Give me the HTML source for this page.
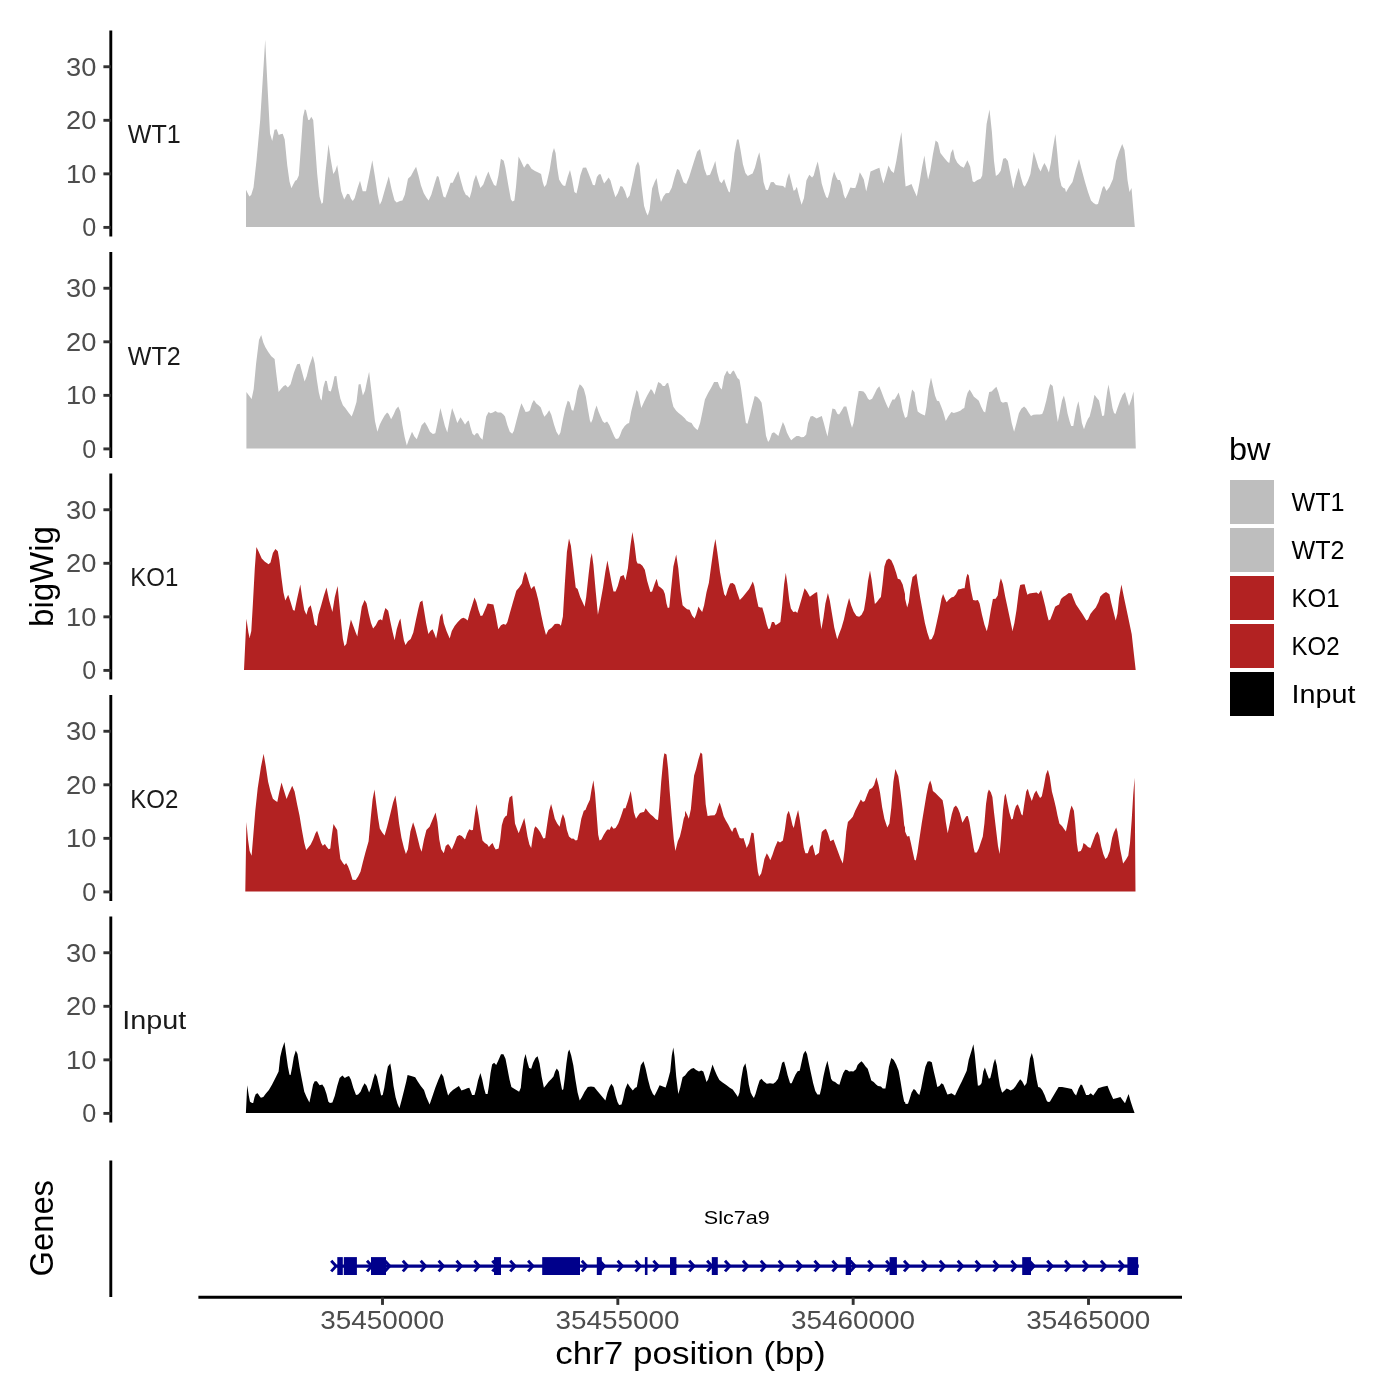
<!DOCTYPE html><html><head><meta charset="utf-8"><title>bw</title><style>html,body{margin:0;padding:0;background:#fff}svg{display:block;will-change:transform}text{font-family:"Liberation Sans",sans-serif}</style></head><body>
<svg width="1400" height="1400" viewBox="0 0 1400 1400">
<rect width="1400" height="1400" fill="#fff"/>
<path d="M246.0 227.0L246.0 189.7L249.3 196.5L251.2 195.0L253.5 187.5L256.5 160.5L260.2 120.0L265.2 39.7L267.7 90.0L270.0 133.5L272.2 141.0L274.5 129.7L276.7 129.3L278.7 135.0L280.5 134.2L282.7 133.8L284.7 139.5L287.2 165.0L289.5 181.5L291.4 188.2L293.2 184.5L295.2 180.7L296.7 180.0L298.8 175.5L300.7 150.0L303.0 117.0L304.8 109.2L306.0 110.2L308.2 120.0L309.7 119.7L311.2 116.7L313.2 120.0L315.0 144.0L317.2 174.0L319.5 196.5L321.7 204.0L322.9 202.5L325.5 172.5L328.5 144.3L330.7 159.0L333.3 174.0L335.2 171.0L337.2 165.0L339.0 177.0L341.2 191.2L344.2 199.5L347.2 193.8L349.2 194.2L351.0 198.7L352.8 201.0L354.7 198.0L357.7 187.5L360.0 180.7L362.7 191.2L366.0 191.2L369.0 177.0L372.3 160.2L375.0 177.0L377.7 195.0L379.8 204.7L381.7 201.0L385.5 187.5L388.8 176.2L391.5 189.0L394.5 200.2L396.7 202.5L400.0 201.0L402.4 200.4L404.8 194.8L408.0 178.8L410.9 175.9L413.7 170.7L416.1 166.7L418.5 175.5L420.9 185.2L423.8 193.2L426.5 197.7L428.6 200.4L431.3 194.8L434.6 183.6L437.0 175.9L438.6 176.8L441.0 186.8L443.4 196.4L445.3 197.7L447.9 190.8L450.6 182.8L452.7 182.8L455.4 177.1L458.3 171.0L460.8 180.4L463.5 190.0L465.9 195.1L467.5 195.6L469.6 198.0L471.5 191.6L473.6 181.2L476.0 174.7L477.9 180.4L480.4 188.1L483.3 184.4L486.0 177.1L488.4 171.5L490.8 177.9L494.0 184.9L496.1 186.0L498.4 175.5L500.9 158.7L503.7 160.8L505.3 167.5L508.0 183.6L510.9 199.6L512.5 201.6L514.4 200.4L516.0 186.8L518.6 156.6L520.9 161.1L524.1 167.8L527.0 163.5L528.6 164.3L531.5 168.8L535.0 171.0L538.2 172.6L541.1 173.9L542.7 182.0L544.3 187.1L546.3 184.4L549.5 170.7L552.4 153.0L554.0 147.9L555.6 153.0L557.2 167.5L559.1 179.6L561.5 183.6L563.1 185.5L565.2 186.0L567.6 177.1L570.0 169.9L572.0 178.8L574.4 191.9L576.5 193.5L578.4 185.2L580.3 175.5L582.9 167.8L586.1 167.5L588.4 173.1L590.9 179.6L592.9 184.9L594.9 185.2L596.9 177.1L599.0 174.3L600.6 174.3L602.5 179.6L604.1 183.6L606.5 180.4L608.6 177.5L610.5 180.4L612.9 189.2L615.4 197.2L617.8 193.2L620.5 186.0L622.6 186.8L625.0 191.6L627.2 198.4L629.6 195.6L632.9 180.4L635.8 165.9L638.0 161.4L639.6 165.9L641.7 186.8L644.1 206.1L646.2 212.5L647.8 215.4L649.7 209.3L652.1 188.4L654.6 182.0L656.6 177.9L658.6 191.6L661.0 202.1L663.4 196.4L665.8 193.2L669.0 192.9L671.8 187.6L674.6 177.1L677.1 169.1L679.1 169.9L681.1 175.5L683.5 182.3L686.2 183.9L689.1 177.1L693.1 164.3L697.1 151.8L700.0 149.0L702.0 157.9L704.4 169.1L706.8 175.5L710.0 174.7L712.9 167.5L715.3 161.1L717.2 172.3L719.6 181.2L721.6 183.3L724.1 179.1L726.1 185.2L728.5 191.6L729.8 192.4L731.7 178.8L734.4 153.0L737.0 139.4L738.6 139.4L740.5 149.8L742.9 164.3L745.4 173.1L747.8 175.9L750.5 174.4L752.6 173.6L755.0 167.5L757.4 157.9L759.3 152.2L761.4 164.3L763.5 182.0L765.9 189.7L767.9 190.0L770.8 182.3L773.5 182.0L775.9 184.9L779.1 185.5L783.1 186.0L785.2 188.1L787.1 178.8L789.1 173.1L791.2 181.2L793.6 190.8L795.2 190.0L796.8 186.8L799.2 196.4L801.6 204.8L804.0 198.0L806.4 180.4L809.3 174.7L812.1 177.5L813.7 175.5L815.8 167.5L817.7 161.4L819.6 170.7L821.7 183.6L824.1 191.6L826.2 197.2L827.8 198.0L829.7 191.6L832.1 178.8L834.1 171.5L836.2 177.1L837.8 180.0L839.9 179.9L841.8 185.2L843.7 194.8L845.0 198.0L845.6 198.4L848.0 193.2L850.4 187.6L852.9 188.1L855.3 188.1L857.4 182.0L859.8 172.3L861.7 175.5L863.8 179.6L866.2 191.6L868.1 183.6L870.5 171.5L872.9 170.4L876.2 169.1L879.4 167.8L881.5 177.1L883.4 183.6L885.8 175.5L888.5 165.6L891.1 170.7L893.8 173.1L896.3 161.1L898.7 146.6L901.4 132.1L902.7 148.2L904.3 172.3L905.6 186.5L908.3 185.5L911.5 183.9L913.9 190.0L916.8 196.4L919.6 182.0L922.0 167.5L924.4 155.4L926.0 167.5L928.1 179.6L930.3 170.7L932.9 154.6L935.6 140.5L938.0 142.6L940.4 153.0L944.5 158.2L947.7 161.9L949.3 163.0L950.9 153.0L953.0 149.0L954.9 157.9L957.3 162.7L960.5 165.9L963.8 167.8L965.8 163.5L967.4 160.3L970.2 166.7L972.6 181.2L974.2 182.3L977.4 180.0L980.6 178.8L982.2 175.5L983.8 157.9L986.6 124.1L989.5 109.6L991.9 132.1L994.0 161.1L995.9 175.9L998.3 174.3L1000.7 170.7L1003.1 158.7L1005.5 157.9L1007.9 161.1L1010.4 173.9L1013.3 188.4L1016.0 177.1L1018.7 167.8L1020.8 177.1L1023.2 184.9L1024.8 186.8L1028.0 180.4L1030.4 173.9L1032.1 162.7L1033.7 151.8L1036.1 159.5L1038.5 167.5L1040.6 171.5L1042.5 166.7L1044.4 163.0L1046.5 166.7L1048.9 172.6L1050.9 162.7L1052.9 148.2L1055.4 134.1L1057.3 153.0L1059.4 177.1L1061.5 186.0L1063.4 188.1L1065.0 188.4L1066.0 192.2L1069.0 187.0L1072.5 182.0L1076.0 169.0L1079.0 159.0L1081.5 169.0L1085.0 182.0L1088.0 192.0L1091.0 200.5L1093.5 203.0L1096.0 204.5L1098.0 204.0L1100.5 195.0L1102.5 188.0L1104.0 185.8L1106.5 191.0L1109.5 187.0L1113.0 179.0L1116.0 161.0L1119.0 152.0L1122.2 144.0L1124.5 150.0L1126.0 164.0L1127.5 180.0L1129.5 192.0L1131.5 188.0L1134.8 227.0L1134.8 227.0Z" fill="#BEBEBE"/>
<line x1="110.8" y1="30.5" x2="110.8" y2="236.5" stroke="#000" stroke-width="2.9"/>
<line x1="103.4" y1="227.40" x2="110.8" y2="227.40" stroke="#333" stroke-width="2.9"/>
<text x="96.3" y="236.3" font-size="25.9" fill="#4D4D4D" text-anchor="end" textLength="14" lengthAdjust="spacingAndGlyphs">0</text>
<line x1="103.4" y1="173.85" x2="110.8" y2="173.85" stroke="#333" stroke-width="2.9"/>
<text x="96.3" y="182.8" font-size="25.9" fill="#4D4D4D" text-anchor="end" textLength="30.3" lengthAdjust="spacingAndGlyphs">10</text>
<line x1="103.4" y1="120.30" x2="110.8" y2="120.30" stroke="#333" stroke-width="2.9"/>
<text x="96.3" y="129.2" font-size="25.9" fill="#4D4D4D" text-anchor="end" textLength="30.3" lengthAdjust="spacingAndGlyphs">20</text>
<line x1="103.4" y1="66.75" x2="110.8" y2="66.75" stroke="#333" stroke-width="2.9"/>
<text x="96.3" y="75.7" font-size="25.9" fill="#4D4D4D" text-anchor="end" textLength="30.3" lengthAdjust="spacingAndGlyphs">30</text>
<text x="127.80000000000001" y="143.0" font-size="25.9" fill="#1A1A1A" text-anchor="start" textLength="53" lengthAdjust="spacingAndGlyphs">WT1</text>
<path d="M246.4 448.5L246.4 392.0L248.8 395.2L251.6 399.1L253.7 389.1L256.1 363.4L259.0 340.1L261.2 334.9L263.3 342.5L265.4 347.3L268.1 351.8L271.3 356.2L274.6 358.9L276.2 373.0L278.6 392.0L281.0 389.1L283.4 386.2L285.5 385.1L287.9 387.5L290.6 384.3L293.8 373.0L297.1 364.2L299.8 363.7L301.9 371.4L304.6 381.4L306.7 376.3L309.1 366.6L312.8 355.7L314.7 363.4L316.8 379.5L318.8 392.3L320.4 398.8L321.6 400.4L323.3 387.5L325.2 380.8L326.8 381.1L328.7 390.7L330.8 391.5L332.4 385.9L334.5 376.3L336.4 375.9L338.0 387.5L340.4 398.8L342.9 405.2L345.3 408.1L348.5 412.4L351.7 416.4L354.1 410.0L356.5 402.0L358.6 384.6L360.5 384.0L362.9 395.5L365.0 390.7L367.0 381.1L369.1 371.8L371.0 387.5L373.1 405.2L375.0 421.3L377.4 431.7L379.8 424.5L381.8 420.4L384.6 415.6L387.1 412.4L388.7 414.0L391.1 419.3L393.5 414.8L395.9 409.2L398.3 406.5L400.4 411.6L402.3 424.5L404.7 437.3L406.8 445.4L408.8 439.7L412.0 431.7L414.4 436.5L416.8 439.3L419.2 432.5L421.6 425.3L424.8 422.1L427.2 426.1L430.0 431.7L432.9 434.1L435.3 433.3L438.0 420.4L440.4 408.1L442.5 416.4L444.9 426.1L447.3 432.5L449.7 419.6L452.1 408.1L454.6 414.8L457.3 422.9L460.5 417.2L462.6 420.4L465.0 424.5L465.1 424.5L467.2 421.6L468.8 420.4L470.4 426.9L472.5 433.8L474.5 435.4L476.1 433.3L478.0 433.3L480.1 437.3L482.5 439.7L484.1 429.3L486.2 416.4L488.6 411.9L490.5 413.2L492.9 412.4L495.4 411.1L497.8 412.4L501.0 412.4L503.4 414.5L505.0 416.4L507.4 425.3L509.8 431.7L512.2 433.8L513.8 430.9L516.3 421.3L519.1 410.8L521.4 403.3L523.5 407.6L525.6 411.9L528.3 411.6L529.9 410.3L532.0 403.6L533.9 400.0L536.3 403.6L538.8 405.5L540.8 407.6L542.8 413.2L544.4 416.8L546.8 414.0L549.2 410.3L551.3 414.8L554.0 424.5L556.4 431.7L558.8 435.4L560.4 432.5L562.9 419.6L565.3 408.4L567.7 400.7L569.6 402.0L571.7 410.0L573.3 410.8L575.4 402.0L577.3 390.7L579.7 384.3L581.8 385.9L583.8 389.1L585.8 396.3L587.8 408.4L589.9 420.4L591.0 422.9L592.6 419.3L594.7 410.8L596.6 405.5L598.5 411.6L600.6 416.4L602.7 421.3L604.6 422.9L607.1 421.6L609.5 425.3L611.9 430.9L614.3 436.5L615.9 438.9L618.3 438.6L619.9 435.7L622.0 430.1L624.7 426.1L627.1 423.7L629.1 422.9L631.2 411.6L633.6 402.0L636.5 389.9L638.1 392.3L639.7 400.4L641.3 408.1L644.0 402.0L647.2 395.5L650.9 389.1L652.5 390.7L654.5 394.7L656.1 389.1L658.2 381.9L660.9 383.5L662.8 385.9L664.9 385.9L666.5 383.5L668.1 382.7L669.7 389.1L671.8 400.4L673.4 406.8L676.2 410.8L678.6 412.9L681.8 415.6L685.0 418.4L686.4 420.4L688.8 422.1L691.6 422.9L693.7 426.4L696.1 429.0L697.7 430.1L700.1 422.9L702.5 411.6L704.9 399.6L708.1 393.1L711.3 387.5L714.1 381.9L717.8 381.9L719.9 387.5L721.8 389.4L724.2 376.3L727.1 370.6L729.0 373.8L730.6 374.3L732.2 371.4L733.8 370.6L735.4 373.8L737.5 377.9L739.5 379.8L741.1 389.1L743.5 406.8L745.9 422.9L747.5 423.7L749.9 414.8L752.3 405.2L754.7 395.9L757.1 397.1L759.6 399.6L761.6 402.8L763.6 416.4L766.0 435.7L768.1 442.1L769.7 439.7L771.9 433.3L774.0 432.2L776.1 434.1L778.4 436.0L780.4 429.3L782.9 422.1L784.8 426.1L786.9 432.5L789.3 437.3L791.2 440.2L793.8 438.1L796.5 436.0L798.9 436.0L801.3 437.3L803.8 437.0L806.2 434.4L808.1 422.9L810.5 416.4L812.6 416.1L814.7 417.2L816.6 418.4L819.0 417.2L821.8 416.1L823.8 422.9L825.9 430.9L827.5 436.5L829.5 424.5L832.4 408.4L835.1 409.2L837.5 414.0L839.1 414.5L841.5 410.8L843.9 406.5L846.3 406.5L847.9 412.4L850.0 421.3L852.0 427.7L853.6 422.9L856.0 406.8L858.7 391.0L860.8 391.0L863.5 391.5L865.6 393.9L868.0 398.8L869.6 400.0L872.1 398.8L874.5 393.9L876.9 389.1L879.3 386.2L881.7 392.3L884.1 398.8L886.5 404.4L888.4 408.4L890.5 403.6L892.5 399.6L894.6 399.6L897.0 395.5L898.6 392.6L900.5 398.8L902.6 410.0L905.0 417.7L905.6 417.7L907.2 416.4L909.3 403.6L912.1 389.4L914.5 392.3L916.1 403.6L917.7 411.6L920.1 413.2L922.5 414.5L924.9 415.6L926.5 406.8L928.6 389.1L931.0 377.5L932.9 385.9L935.0 395.5L937.0 400.7L939.1 401.2L941.0 406.0L943.1 411.6L945.8 420.9L948.2 416.4L951.4 411.9L953.8 412.9L957.1 411.9L960.3 410.8L962.7 408.7L964.3 408.1L965.9 398.8L967.5 393.1L969.6 389.4L971.5 392.6L973.9 396.8L976.8 399.1L978.8 400.7L981.2 406.8L983.6 411.6L985.2 412.4L987.1 402.0L989.2 392.0L991.6 391.5L994.0 389.1L996.4 386.7L998.4 392.3L1000.9 401.6L1002.9 402.8L1005.3 402.0L1007.4 402.3L1009.3 410.0L1011.7 422.9L1014.1 431.7L1016.5 422.9L1018.9 413.2L1021.3 408.7L1024.1 406.5L1026.2 408.4L1028.6 412.4L1031.0 416.1L1033.4 414.8L1036.6 414.5L1039.8 414.5L1042.2 414.0L1043.8 410.0L1046.3 400.4L1048.7 389.1L1050.3 384.0L1052.7 385.9L1054.3 397.1L1055.9 410.0L1057.8 422.1L1059.9 411.6L1062.0 400.4L1063.9 395.5L1065.5 402.0L1067.5 413.2L1069.6 421.3L1071.2 426.1L1073.3 426.1L1075.2 414.8L1076.8 406.8L1078.4 401.2L1080.0 410.0L1081.9 422.9L1084.0 429.3L1086.1 422.9L1088.0 418.8L1089.6 416.4L1092.1 406.8L1094.5 394.7L1096.9 397.9L1099.0 400.4L1100.6 408.1L1102.2 416.1L1104.1 415.6L1105.7 402.0L1107.3 390.7L1108.5 384.5L1110.5 396.0L1112.5 408.0L1114.0 413.0L1115.5 414.0L1117.5 408.0L1120.0 401.0L1122.5 395.0L1125.0 392.0L1127.0 399.0L1129.0 406.0L1131.5 399.0L1133.5 391.5L1134.5 410.0L1135.8 448.5L1135.8 448.5Z" fill="#BEBEBE"/>
<line x1="110.8" y1="252.0" x2="110.8" y2="458.0" stroke="#000" stroke-width="2.9"/>
<line x1="103.4" y1="448.90" x2="110.8" y2="448.90" stroke="#333" stroke-width="2.9"/>
<text x="96.3" y="457.8" font-size="25.9" fill="#4D4D4D" text-anchor="end" textLength="14" lengthAdjust="spacingAndGlyphs">0</text>
<line x1="103.4" y1="395.35" x2="110.8" y2="395.35" stroke="#333" stroke-width="2.9"/>
<text x="96.3" y="404.2" font-size="25.9" fill="#4D4D4D" text-anchor="end" textLength="30.3" lengthAdjust="spacingAndGlyphs">10</text>
<line x1="103.4" y1="341.80" x2="110.8" y2="341.80" stroke="#333" stroke-width="2.9"/>
<text x="96.3" y="350.7" font-size="25.9" fill="#4D4D4D" text-anchor="end" textLength="30.3" lengthAdjust="spacingAndGlyphs">20</text>
<line x1="103.4" y1="288.25" x2="110.8" y2="288.25" stroke="#333" stroke-width="2.9"/>
<text x="96.3" y="297.1" font-size="25.9" fill="#4D4D4D" text-anchor="end" textLength="30.3" lengthAdjust="spacingAndGlyphs">30</text>
<text x="127.80000000000001" y="364.5" font-size="25.9" fill="#1A1A1A" text-anchor="start" textLength="53" lengthAdjust="spacingAndGlyphs">WT2</text>
<path d="M244.0 670.0L244.0 669.9L246.4 618.8L248.4 632.5L249.6 638.1L251.3 630.9L252.9 603.6L254.8 568.2L256.4 547.0L258.5 551.3L261.7 558.6L264.9 561.8L268.6 564.2L270.5 562.6L272.9 552.9L275.4 548.9L277.8 551.3L279.4 560.2L281.5 577.9L283.4 592.3L285.3 600.4L288.2 594.7L290.6 602.0L293.0 610.0L294.6 610.8L297.1 598.8L300.3 584.6L302.4 598.8L304.3 610.0L306.4 614.8L308.3 608.1L310.7 605.2L312.6 613.2L314.7 624.5L316.8 626.1L318.4 614.8L321.2 605.2L323.9 595.5L326.5 587.5L329.2 600.4L332.4 611.9L334.8 597.1L337.6 585.9L339.3 603.6L341.3 624.5L342.9 638.9L344.5 646.2L346.4 643.8L348.5 630.9L350.9 619.6L353.3 626.1L355.7 632.5L357.3 636.5L359.3 622.9L361.8 606.8L364.6 600.0L366.6 603.6L368.6 613.2L371.0 622.9L373.1 628.5L375.8 625.3L378.2 620.4L380.6 619.3L382.2 620.4L383.8 613.2L385.4 608.1L388.2 610.8L390.3 621.3L392.7 632.5L394.6 640.2L396.7 629.3L399.1 621.3L400.4 618.4L402.0 629.3L403.9 640.5L405.5 645.0L407.9 641.3L410.7 638.9L413.3 632.5L416.0 619.6L418.4 608.4L420.0 602.3L422.4 600.4L424.0 610.0L426.1 622.9L428.4 634.1L430.4 630.9L432.5 629.3L434.5 634.1L436.1 638.6L438.0 629.3L440.1 616.4L442.2 613.2L443.8 622.9L446.5 630.9L449.7 638.6L451.8 630.9L454.6 626.1L457.8 622.1L461.0 618.8L463.4 617.7L465.0 618.4L465.6 618.8L467.7 620.4L469.6 613.2L472.1 605.2L474.5 597.5L476.4 602.0L478.5 610.0L480.6 616.1L482.5 615.6L484.9 610.0L487.6 603.6L490.5 604.1L493.4 604.4L495.4 613.2L498.3 629.3L501.0 625.3L503.4 624.1L505.8 624.8L507.4 622.1L509.8 613.2L513.0 602.0L516.3 590.7L519.1 587.5L521.9 583.5L523.5 576.3L525.1 571.4L526.7 574.6L529.1 582.7L531.2 589.1L533.1 586.7L534.4 585.9L536.3 592.3L538.4 600.4L541.2 614.8L543.6 626.1L546.0 634.9L548.4 630.1L551.6 627.7L554.8 624.1L557.2 623.7L559.3 624.1L560.9 625.8L562.9 616.4L564.8 584.3L566.9 552.1L569.0 538.5L570.9 545.7L573.3 566.6L575.7 587.5L577.6 589.1L580.2 597.1L582.5 602.0L584.6 606.8L586.2 597.1L588.6 574.6L590.5 558.6L591.8 552.9L593.4 565.0L595.8 592.3L597.9 614.8L599.8 605.2L603.0 587.5L605.4 571.4L607.4 560.5L609.5 571.4L611.9 584.3L613.5 591.5L615.6 591.5L617.8 585.9L620.4 576.6L623.6 575.0L625.5 580.3L627.9 568.2L630.4 545.7L632.4 532.1L634.4 544.1L636.5 561.0L637.6 563.4L640.0 563.7L642.4 565.8L644.8 569.8L647.2 581.1L650.4 592.0L652.1 591.5L654.5 584.3L656.6 578.7L658.5 585.9L660.9 587.8L663.3 589.9L664.9 593.9L666.5 603.6L667.8 608.1L669.3 607.6L670.9 590.7L673.4 566.6L676.2 554.6L678.3 568.2L680.5 590.7L682.6 605.2L685.0 607.6L687.2 609.2L689.6 609.7L692.1 615.6L694.5 618.4L696.1 614.8L698.5 606.5L700.1 609.2L702.2 611.9L704.1 605.2L706.5 592.3L708.9 582.7L711.3 565.0L713.8 547.3L715.4 539.0L717.3 552.1L719.9 571.4L722.1 584.3L724.2 594.3L725.8 596.3L727.9 589.1L730.1 583.5L732.7 583.0L735.0 585.1L737.1 592.3L739.8 600.0L742.7 597.1L745.9 593.1L749.1 589.1L751.5 584.3L752.8 581.4L754.3 585.9L756.3 597.1L758.4 606.8L760.4 607.6L762.3 607.6L764.4 614.8L766.8 624.5L768.4 629.0L770.0 628.5L771.9 622.1L774.0 622.1L775.6 625.3L778.0 623.7L780.4 622.1L782.1 606.8L784.1 584.3L785.8 572.7L787.4 584.3L789.3 600.4L790.9 608.4L793.3 611.9L795.7 611.6L797.3 612.9L799.7 605.2L802.1 597.1L804.6 588.3L807.0 591.5L809.9 596.8L812.6 594.7L815.0 593.1L817.1 592.0L818.2 603.6L819.8 618.0L821.4 629.3L823.4 618.0L825.4 603.6L827.9 593.1L829.8 600.4L831.9 613.2L834.3 627.7L837.2 639.3L839.1 634.1L841.5 627.7L843.9 619.6L846.3 608.4L849.1 597.9L851.2 605.2L853.6 611.6L856.5 616.1L859.2 616.8L861.6 614.8L864.0 610.0L866.1 597.1L868.0 581.1L870.0 570.6L871.6 579.5L873.3 592.3L874.9 603.9L876.9 602.0L879.3 598.8L880.9 597.1L882.5 584.3L884.4 566.6L886.5 560.2L888.9 558.6L891.3 560.2L893.8 565.8L896.2 573.0L897.8 578.7L900.2 579.5L902.6 584.3L905.0 593.9L905.1 598.8L907.2 607.6L908.8 602.0L910.4 589.1L912.5 577.1L914.5 575.4L916.4 573.4L918.0 584.3L920.1 597.1L922.5 610.0L924.9 622.9L927.3 632.5L929.7 639.7L931.8 638.9L934.1 634.1L936.6 622.9L939.4 610.0L941.5 598.8L943.1 593.9L945.0 598.8L946.6 602.3L949.0 599.6L951.4 597.5L953.8 596.8L955.9 594.3L958.2 589.4L960.8 589.1L963.0 588.3L964.6 588.3L966.2 577.9L967.5 573.8L968.8 575.4L970.7 589.1L973.1 600.0L975.5 600.4L977.9 600.0L979.6 603.6L982.0 614.8L984.4 624.5L986.8 631.2L988.4 624.5L990.8 610.0L992.9 599.1L995.6 598.8L997.7 595.5L999.6 582.7L1000.9 578.2L1002.9 584.3L1005.3 597.1L1007.4 606.8L1010.1 619.6L1012.5 630.9L1014.4 622.9L1016.5 610.0L1018.9 590.7L1020.2 585.1L1022.1 584.6L1024.6 584.3L1026.2 590.7L1027.4 594.7L1029.4 593.6L1032.6 593.1L1036.6 592.6L1038.5 593.9L1041.1 589.9L1043.0 597.1L1045.4 606.8L1047.1 614.8L1048.7 620.4L1050.3 619.6L1052.7 613.2L1055.1 606.8L1057.5 605.2L1059.1 604.4L1061.0 599.1L1063.1 597.1L1065.5 595.5L1068.8 593.1L1071.6 593.6L1073.6 598.8L1076.0 604.4L1079.2 609.2L1082.4 614.0L1084.8 618.0L1086.4 620.4L1088.0 619.6L1090.4 614.0L1092.9 610.8L1095.8 607.6L1098.5 602.0L1100.3 596.6L1103.1 593.7L1106.0 592.0L1109.4 594.3L1111.1 602.3L1113.4 611.4L1115.7 620.6L1117.4 613.7L1119.1 597.7L1121.4 584.6L1124.3 598.9L1127.7 614.9L1131.7 634.3L1134.0 654.9L1135.7 669.9L1135.7 670.0Z" fill="#B22222"/>
<line x1="110.8" y1="473.5" x2="110.8" y2="679.5" stroke="#000" stroke-width="2.9"/>
<line x1="103.4" y1="670.40" x2="110.8" y2="670.40" stroke="#333" stroke-width="2.9"/>
<text x="96.3" y="679.3" font-size="25.9" fill="#4D4D4D" text-anchor="end" textLength="14" lengthAdjust="spacingAndGlyphs">0</text>
<line x1="103.4" y1="616.85" x2="110.8" y2="616.85" stroke="#333" stroke-width="2.9"/>
<text x="96.3" y="625.8" font-size="25.9" fill="#4D4D4D" text-anchor="end" textLength="30.3" lengthAdjust="spacingAndGlyphs">10</text>
<line x1="103.4" y1="563.30" x2="110.8" y2="563.30" stroke="#333" stroke-width="2.9"/>
<text x="96.3" y="572.2" font-size="25.9" fill="#4D4D4D" text-anchor="end" textLength="30.3" lengthAdjust="spacingAndGlyphs">20</text>
<line x1="103.4" y1="509.75" x2="110.8" y2="509.75" stroke="#333" stroke-width="2.9"/>
<text x="96.3" y="518.6" font-size="25.9" fill="#4D4D4D" text-anchor="end" textLength="30.3" lengthAdjust="spacingAndGlyphs">30</text>
<text x="130.3" y="586.0" font-size="25.9" fill="#1A1A1A" text-anchor="start" textLength="48" lengthAdjust="spacingAndGlyphs">KO1</text>
<path d="M245.3 891.5L245.3 891.5L246.4 822.0L248.0 839.6L249.6 850.9L251.6 855.7L253.2 836.4L255.3 810.7L257.7 788.2L260.9 767.3L263.6 753.7L265.7 765.7L268.1 781.8L270.5 791.4L272.9 798.7L275.4 800.8L277.3 801.9L279.4 791.4L281.5 782.6L283.7 789.8L286.6 799.1L289.0 793.0L292.2 785.8L294.6 791.4L297.1 804.3L299.5 815.5L301.9 830.0L304.3 842.9L306.2 850.1L308.3 847.4L310.7 844.5L313.1 839.6L315.5 833.2L317.1 830.8L319.1 836.4L321.2 842.9L322.8 845.8L324.9 844.1L326.8 846.9L328.7 849.3L330.3 848.5L331.9 834.8L333.5 823.9L335.6 827.6L337.2 830.0L338.4 842.9L340.4 858.9L342.9 862.9L344.5 865.0L346.1 862.9L348.0 866.2L350.1 871.8L352.5 879.8L355.7 880.1L358.1 876.6L360.5 871.8L362.9 862.1L365.4 852.5L368.6 841.3L370.5 820.4L372.6 799.5L374.5 789.5L376.3 804.3L378.2 818.8L379.8 828.4L382.2 832.4L384.6 835.6L387.1 826.8L390.3 813.9L393.0 802.7L395.4 795.4L397.2 807.5L399.1 823.6L401.5 838.0L403.9 847.7L405.9 854.1L407.9 849.3L410.4 831.6L413.1 822.3L415.2 828.4L417.6 838.0L420.0 847.7L421.6 851.7L424.0 839.6L426.4 830.0L429.6 826.8L432.9 818.8L435.6 812.6L437.4 822.0L439.3 839.6L441.2 849.3L443.8 853.3L445.7 846.1L448.1 844.1L449.7 846.1L451.8 849.6L454.6 842.9L457.0 836.4L459.4 835.1L461.8 836.1L465.0 839.6L467.2 833.2L469.3 829.2L471.3 830.3L472.9 830.0L474.5 817.1L476.4 804.0L478.5 815.5L480.6 830.0L482.5 840.4L484.9 842.9L487.3 844.5L488.9 846.9L490.9 844.5L492.6 842.9L494.2 846.9L495.7 849.6L498.6 848.5L500.2 839.6L501.8 825.2L503.7 818.8L505.5 816.3L506.9 815.5L508.2 804.3L509.5 797.5L512.2 795.4L513.8 810.7L515.0 823.6L517.1 829.2L518.7 833.2L521.1 826.8L524.3 817.9L525.9 826.8L527.5 836.4L529.4 844.5L531.2 848.0L532.6 838.0L534.3 828.4L535.5 826.3L537.9 828.7L540.4 832.4L543.3 838.4L545.2 838.0L546.8 826.8L549.2 810.7L551.1 804.0L552.9 810.7L554.8 818.8L557.2 823.6L559.6 826.8L561.3 818.8L562.9 813.9L564.8 818.8L566.9 830.0L569.0 836.4L571.7 838.8L573.3 838.4L575.7 840.4L577.3 840.0L579.3 830.0L581.3 818.8L583.8 810.7L585.4 809.9L587.4 805.1L589.9 799.8L591.5 789.8L593.4 780.2L595.0 793.0L596.6 813.9L598.2 834.8L599.5 840.4L601.4 839.6L603.8 834.8L606.3 830.8L607.9 829.2L609.5 830.0L611.4 826.0L613.5 828.7L615.6 828.1L618.3 823.6L620.7 817.1L623.6 808.3L625.5 808.3L627.9 801.1L630.7 791.1L632.3 801.1L633.9 812.3L636.0 818.8L638.1 815.5L640.0 813.1L642.4 812.3L644.0 812.0L645.6 808.3L648.0 811.5L650.4 814.3L652.9 816.3L655.8 819.2L658.0 820.0L659.3 807.5L661.2 781.8L663.3 759.3L664.4 753.2L666.5 754.5L668.1 768.9L669.7 791.4L671.8 817.1L673.8 839.6L675.4 850.9L677.8 841.3L679.9 836.4L681.8 828.4L683.7 818.8L685.0 815.5L685.1 810.7L687.2 814.7L688.8 818.8L690.9 809.1L692.5 791.4L694.1 775.4L696.1 768.9L698.5 759.3L700.6 752.5L702.2 754.1L703.8 777.0L705.7 804.3L707.6 815.9L710.5 815.5L714.6 815.2L716.2 813.1L717.8 807.5L719.7 802.4L721.5 808.3L723.7 816.3L725.8 820.4L728.2 824.4L730.6 829.2L732.2 831.9L733.8 828.1L735.9 827.6L737.9 833.2L739.8 838.0L741.9 838.4L743.5 838.0L745.1 842.9L746.7 848.0L749.1 842.9L751.5 832.4L753.6 833.2L754.7 842.9L756.3 858.9L757.9 871.8L759.1 876.6L761.2 873.4L762.8 867.0L764.4 858.9L766.8 853.3L768.7 856.5L770.3 860.2L772.4 854.9L774.8 847.7L777.7 840.9L780.0 842.5L782.9 840.4L784.8 830.0L786.9 814.7L788.8 810.7L790.6 817.1L792.5 825.2L793.8 828.1L795.7 818.8L798.1 809.9L799.7 818.8L801.8 833.2L803.8 847.7L805.4 853.3L807.8 853.3L809.9 846.9L812.6 844.5L814.2 850.9L815.3 855.4L817.4 854.1L819.0 852.8L820.1 842.9L821.8 831.9L823.8 830.0L825.9 828.7L827.9 833.2L830.3 841.3L833.5 839.6L835.9 846.1L838.3 852.5L840.7 858.9L842.8 863.4L844.7 849.3L846.3 831.6L847.9 822.0L850.4 819.6L852.8 816.8L855.2 810.7L857.6 805.9L860.8 799.5L862.9 801.9L864.8 801.1L867.2 794.6L869.3 789.5L872.1 787.9L874.1 785.0L876.4 777.3L878.5 785.0L880.1 793.0L882.2 807.5L884.4 818.8L887.3 827.6L889.4 823.6L891.3 807.5L893.4 781.8L895.4 768.9L898.3 776.2L900.5 791.4L902.6 809.1L904.2 825.2L905.0 827.6L905.1 831.6L907.2 836.4L909.3 836.1L910.9 842.9L912.9 852.5L914.5 859.7L915.8 860.5L917.4 852.5L919.3 839.6L921.7 823.6L924.1 809.1L926.5 794.6L928.6 784.2L930.2 780.5L931.7 785.0L932.9 791.1L935.4 793.0L938.6 796.3L942.6 800.3L944.2 809.1L945.8 822.0L947.7 833.2L949.8 823.6L951.8 813.9L953.8 807.5L955.9 805.6L957.9 808.3L959.8 813.1L962.4 822.8L964.3 819.6L966.2 816.3L967.8 815.9L969.4 822.0L971.5 834.8L973.6 847.7L974.7 852.5L976.8 852.5L978.8 848.5L981.2 841.3L982.8 836.4L984.4 823.6L986.0 804.3L987.6 793.0L988.9 789.5L990.8 792.2L992.4 797.1L994.0 812.3L996.1 830.0L998.0 846.1L999.6 854.1L1000.9 839.6L1002.9 810.7L1004.5 796.3L1005.6 793.5L1007.4 802.7L1009.3 812.3L1011.4 819.6L1012.8 818.8L1014.4 810.7L1016.0 805.9L1017.8 804.3L1019.7 809.1L1021.3 814.3L1022.6 815.5L1024.2 804.3L1026.2 791.4L1027.8 788.7L1029.4 794.6L1031.8 801.1L1034.2 793.8L1036.3 790.6L1038.2 794.6L1040.1 797.9L1041.8 796.3L1043.8 786.6L1045.9 774.6L1047.9 769.7L1049.8 777.0L1051.9 791.4L1054.0 799.5L1055.9 807.5L1057.5 815.5L1059.4 823.6L1062.0 826.0L1063.9 828.7L1065.9 831.6L1067.9 822.0L1070.0 810.7L1071.6 805.6L1073.9 810.7L1075.2 823.6L1076.8 842.9L1078.1 851.7L1080.8 850.9L1082.4 847.7L1083.5 842.9L1085.6 844.5L1088.0 846.9L1090.4 848.0L1092.9 841.3L1095.3 834.8L1097.4 831.6L1099.3 835.6L1101.2 846.1L1103.3 854.1L1105.4 858.9L1107.3 857.3L1109.7 850.9L1112.1 838.0L1113.8 832.4L1116.2 827.6L1117.4 831.4L1120.3 849.7L1123.1 863.4L1126.0 859.4L1128.3 855.4L1130.0 842.9L1131.7 820.0L1133.2 794.9L1134.6 777.7L1135.5 891.4L1135.5 891.5Z" fill="#B22222"/>
<line x1="110.8" y1="695.0" x2="110.8" y2="901.0" stroke="#000" stroke-width="2.9"/>
<line x1="103.4" y1="891.90" x2="110.8" y2="891.90" stroke="#333" stroke-width="2.9"/>
<text x="96.3" y="900.8" font-size="25.9" fill="#4D4D4D" text-anchor="end" textLength="14" lengthAdjust="spacingAndGlyphs">0</text>
<line x1="103.4" y1="838.35" x2="110.8" y2="838.35" stroke="#333" stroke-width="2.9"/>
<text x="96.3" y="847.2" font-size="25.9" fill="#4D4D4D" text-anchor="end" textLength="30.3" lengthAdjust="spacingAndGlyphs">10</text>
<line x1="103.4" y1="784.80" x2="110.8" y2="784.80" stroke="#333" stroke-width="2.9"/>
<text x="96.3" y="793.7" font-size="25.9" fill="#4D4D4D" text-anchor="end" textLength="30.3" lengthAdjust="spacingAndGlyphs">20</text>
<line x1="103.4" y1="731.25" x2="110.8" y2="731.25" stroke="#333" stroke-width="2.9"/>
<text x="96.3" y="740.1" font-size="25.9" fill="#4D4D4D" text-anchor="end" textLength="30.3" lengthAdjust="spacingAndGlyphs">30</text>
<text x="130.3" y="807.5" font-size="25.9" fill="#1A1A1A" text-anchor="start" textLength="48" lengthAdjust="spacingAndGlyphs">KO2</text>
<path d="M245.9 1113.0L245.9 1112.9L247.2 1085.3L248.8 1095.7L250.0 1101.8L252.1 1102.9L253.2 1102.9L254.5 1097.3L255.8 1094.1L257.7 1093.3L259.3 1095.7L260.9 1097.8L263.3 1097.0L265.7 1093.8L268.9 1090.1L272.1 1084.5L275.4 1078.0L278.6 1071.6L280.2 1057.1L282.1 1049.1L284.5 1041.9L286.1 1053.9L287.9 1066.8L289.5 1074.8L290.6 1075.1L292.2 1066.8L293.8 1057.1L295.8 1050.4L297.5 1053.9L299.5 1066.8L301.9 1079.6L304.3 1091.7L306.7 1097.3L309.4 1102.5L311.2 1094.1L313.1 1084.5L314.7 1081.3L316.8 1081.3L319.6 1085.3L322.3 1084.5L324.4 1087.7L326.5 1094.1L328.4 1101.8L330.0 1102.9L332.4 1102.5L334.8 1095.7L337.2 1086.1L339.6 1078.0L342.4 1075.6L344.8 1078.0L346.9 1076.8L349.0 1076.1L350.9 1079.6L353.3 1087.7L356.0 1094.9L358.1 1094.4L360.5 1091.7L362.5 1086.9L364.6 1083.2L366.6 1085.8L369.1 1092.5L371.0 1087.7L373.1 1079.6L375.0 1073.2L376.9 1076.4L379.0 1086.1L381.1 1095.4L382.7 1094.9L384.3 1087.7L386.3 1074.8L387.9 1066.5L390.3 1063.6L391.9 1073.2L393.5 1086.1L395.6 1097.3L397.5 1103.8L399.4 1108.3L401.5 1100.5L403.9 1090.9L406.3 1081.3L407.6 1075.1L411.2 1076.1L415.2 1077.2L417.6 1081.3L420.8 1086.1L424.0 1090.1L426.4 1097.3L429.6 1104.6L432.1 1097.3L435.3 1087.7L438.5 1079.6L441.2 1073.5L443.3 1076.4L445.7 1086.9L448.1 1095.4L450.2 1092.5L452.9 1090.1L456.2 1087.7L458.9 1086.1L461.5 1090.6L465.0 1089.3L467.2 1088.2L469.3 1087.7L470.9 1091.7L472.1 1094.9L474.5 1094.9L476.1 1089.3L478.0 1080.4L480.4 1072.9L482.2 1079.6L484.1 1088.5L485.7 1094.1L487.6 1094.1L488.9 1086.1L490.5 1073.2L492.1 1064.4L494.1 1062.8L496.2 1064.9L498.3 1060.4L501.0 1054.3L503.4 1054.3L505.5 1058.8L507.4 1068.4L509.5 1079.6L511.4 1086.9L514.6 1089.0L517.1 1090.6L519.1 1091.7L520.8 1087.7L522.4 1071.6L524.0 1059.6L525.6 1053.9L527.2 1061.2L529.1 1068.1L531.2 1068.7L533.1 1062.8L535.5 1057.9L537.6 1056.3L539.6 1063.6L541.6 1076.4L543.9 1087.7L546.0 1085.3L548.4 1082.1L551.6 1078.8L553.5 1076.4L555.1 1071.6L556.8 1068.4L558.8 1071.6L560.4 1081.3L562.1 1090.1L563.3 1089.3L564.8 1078.0L566.4 1063.6L568.0 1052.3L569.3 1049.4L571.2 1055.5L573.3 1065.2L575.4 1079.6L577.6 1092.5L579.7 1100.5L581.8 1097.3L584.6 1091.7L587.8 1086.9L591.0 1086.6L594.2 1086.9L597.4 1090.9L601.4 1095.7L605.4 1100.5L607.5 1092.5L609.5 1086.9L611.4 1083.7L613.5 1086.9L615.6 1095.7L617.5 1102.1L619.1 1105.0L621.5 1104.6L623.1 1098.9L625.2 1089.3L627.6 1083.2L630.0 1086.9L632.8 1090.6L634.9 1088.0L636.8 1086.9L638.7 1076.4L640.8 1065.2L643.5 1061.2L645.6 1068.4L648.0 1079.6L650.4 1088.5L652.9 1094.1L654.5 1095.7L656.9 1090.9L659.6 1085.3L661.7 1086.1L664.1 1086.9L665.7 1087.4L668.1 1079.6L670.2 1071.6L671.8 1055.5L673.3 1047.5L674.6 1057.1L676.2 1076.4L678.3 1094.1L680.2 1087.7L682.6 1077.2L685.0 1075.6L688.0 1071.6L691.3 1068.7L693.7 1068.1L696.1 1070.0L699.0 1071.6L701.2 1070.5L703.3 1071.6L704.9 1076.4L706.5 1082.1L708.1 1079.6L710.5 1071.6L712.5 1064.4L714.6 1070.0L717.0 1075.6L719.4 1080.1L722.6 1082.5L726.6 1085.3L729.8 1087.7L732.7 1089.6L735.4 1093.3L737.9 1097.0L739.5 1092.5L741.1 1079.6L743.2 1067.6L745.4 1063.3L747.0 1071.6L748.8 1084.5L750.7 1092.5L752.3 1095.7L753.9 1098.1L755.5 1094.1L757.5 1086.9L759.6 1080.4L761.5 1078.8L763.6 1081.3L766.8 1083.7L770.0 1083.2L773.2 1083.7L775.6 1082.1L778.0 1078.8L780.0 1071.6L782.1 1062.8L784.1 1061.6L785.8 1067.6L787.7 1075.6L790.1 1083.2L791.7 1083.2L793.3 1079.6L795.4 1074.8L797.6 1071.3L799.7 1070.8L801.3 1063.6L803.4 1053.9L805.4 1050.7L807.0 1053.9L808.9 1063.6L811.0 1073.2L813.1 1082.9L815.3 1090.9L817.4 1094.4L819.8 1094.4L821.4 1087.7L823.4 1076.4L825.4 1067.6L827.4 1060.7L829.1 1068.4L831.1 1078.8L832.7 1080.9L835.1 1082.1L837.5 1084.1L839.4 1084.8L841.0 1079.6L843.1 1073.2L845.2 1069.7L847.1 1070.0L849.1 1071.6L851.2 1071.3L853.3 1071.6L856.0 1069.2L857.6 1064.9L859.7 1062.8L861.6 1061.2L863.5 1063.6L865.6 1066.5L867.7 1068.7L869.6 1074.8L871.3 1080.4L873.7 1082.1L876.1 1084.5L878.0 1086.1L880.9 1086.6L882.8 1088.5L885.4 1088.5L887.0 1079.6L888.9 1066.8L891.3 1057.9L893.8 1060.0L896.2 1064.4L898.6 1070.8L900.5 1081.3L902.6 1094.1L904.2 1101.8L905.0 1102.1L905.6 1104.1L908.0 1103.8L909.6 1098.9L911.6 1092.5L913.7 1089.0L915.3 1090.1L917.4 1093.3L919.3 1094.9L921.2 1087.7L923.3 1076.4L925.4 1066.8L927.6 1061.6L929.7 1061.2L931.8 1062.3L933.8 1071.6L935.7 1079.6L937.3 1086.9L939.4 1086.1L941.5 1083.2L943.4 1084.5L945.3 1089.3L947.4 1094.4L949.5 1094.1L951.4 1093.3L953.4 1094.4L955.0 1095.4L957.1 1090.9L959.5 1086.1L961.9 1081.3L964.3 1076.1L966.7 1070.8L968.8 1059.6L971.5 1050.7L973.4 1044.3L974.7 1053.9L976.3 1070.0L977.9 1085.8L980.0 1085.3L981.6 1082.9L983.3 1071.6L984.9 1067.6L986.8 1073.2L988.9 1078.8L990.3 1078.0L991.9 1071.6L993.5 1063.6L995.1 1058.8L996.8 1065.2L998.4 1076.4L1000.0 1086.1L1002.1 1092.8L1004.1 1090.9L1006.6 1088.5L1008.5 1089.3L1010.6 1090.6L1013.3 1089.0L1015.4 1086.4L1017.6 1082.9L1020.2 1079.3L1022.1 1081.3L1024.6 1086.1L1026.6 1082.9L1028.3 1071.6L1029.9 1058.8L1031.8 1053.1L1033.4 1058.8L1035.0 1070.0L1036.6 1079.6L1038.2 1086.9L1040.1 1087.4L1042.2 1090.1L1044.6 1094.9L1046.6 1100.5L1047.9 1102.1L1049.8 1101.8L1050.0 1101.4L1054.3 1094.3L1058.6 1087.1L1062.1 1087.0L1067.1 1087.9L1071.8 1088.9L1074.3 1093.6L1076.1 1095.4L1078.6 1088.6L1080.7 1084.6L1082.1 1085.0L1083.9 1089.3L1086.1 1094.9L1088.6 1094.9L1090.7 1093.2L1093.2 1095.4L1095.7 1092.1L1098.2 1088.2L1102.9 1086.8L1107.5 1085.7L1110.0 1092.1L1113.2 1098.9L1117.1 1098.0L1120.4 1097.1L1122.9 1100.4L1125.0 1103.2L1126.8 1098.6L1128.6 1093.9L1130.7 1101.4L1132.9 1108.2L1134.6 1113.0L1134.6 1113.0Z" fill="#000000"/>
<line x1="110.8" y1="916.5" x2="110.8" y2="1122.5" stroke="#000" stroke-width="2.9"/>
<line x1="103.4" y1="1113.40" x2="110.8" y2="1113.40" stroke="#333" stroke-width="2.9"/>
<text x="96.3" y="1122.3" font-size="25.9" fill="#4D4D4D" text-anchor="end" textLength="14" lengthAdjust="spacingAndGlyphs">0</text>
<line x1="103.4" y1="1059.85" x2="110.8" y2="1059.85" stroke="#333" stroke-width="2.9"/>
<text x="96.3" y="1068.8" font-size="25.9" fill="#4D4D4D" text-anchor="end" textLength="30.3" lengthAdjust="spacingAndGlyphs">10</text>
<line x1="103.4" y1="1006.30" x2="110.8" y2="1006.30" stroke="#333" stroke-width="2.9"/>
<text x="96.3" y="1015.2" font-size="25.9" fill="#4D4D4D" text-anchor="end" textLength="30.3" lengthAdjust="spacingAndGlyphs">20</text>
<line x1="103.4" y1="952.75" x2="110.8" y2="952.75" stroke="#333" stroke-width="2.9"/>
<text x="96.3" y="961.6" font-size="25.9" fill="#4D4D4D" text-anchor="end" textLength="30.3" lengthAdjust="spacingAndGlyphs">30</text>
<text x="122.30000000000001" y="1029.0" font-size="25.9" fill="#1A1A1A" text-anchor="start" textLength="64" lengthAdjust="spacingAndGlyphs">Input</text>
<text x="52.5" y="627" font-size="32.5" fill="#000" text-anchor="start" textLength="101" lengthAdjust="spacingAndGlyphs" transform="rotate(-90 52.5 627)">bigWig</text>
<text x="52.5" y="1276.5" font-size="32.5" fill="#000" text-anchor="start" textLength="96.5" lengthAdjust="spacingAndGlyphs" transform="rotate(-90 52.5 1276.5)">Genes</text>
<line x1="110.8" y1="1160.5" x2="110.8" y2="1297" stroke="#000" stroke-width="2.9"/>
<line x1="198.4" y1="1297.3" x2="1182" y2="1297.3" stroke="#000" stroke-width="2.9"/>
<line x1="382.5" y1="1297.4" x2="382.5" y2="1304.9" stroke="#333" stroke-width="2.9"/>
<text x="320.3" y="1329.3" font-size="25.9" fill="#4D4D4D" text-anchor="start" textLength="124" lengthAdjust="spacingAndGlyphs">35450000</text>
<line x1="617.83" y1="1297.4" x2="617.83" y2="1304.9" stroke="#333" stroke-width="2.9"/>
<text x="555.63" y="1329.3" font-size="25.9" fill="#4D4D4D" text-anchor="start" textLength="124" lengthAdjust="spacingAndGlyphs">35455000</text>
<line x1="853.17" y1="1297.4" x2="853.17" y2="1304.9" stroke="#333" stroke-width="2.9"/>
<text x="790.9699999999999" y="1329.3" font-size="25.9" fill="#4D4D4D" text-anchor="start" textLength="124" lengthAdjust="spacingAndGlyphs">35460000</text>
<line x1="1088.5" y1="1297.4" x2="1088.5" y2="1304.9" stroke="#333" stroke-width="2.9"/>
<text x="1026.3" y="1329.3" font-size="25.9" fill="#4D4D4D" text-anchor="start" textLength="124" lengthAdjust="spacingAndGlyphs">35465000</text>
<text x="555.2" y="1363.5" font-size="32" fill="#000" text-anchor="start" textLength="270.5" lengthAdjust="spacingAndGlyphs">chr7 position (bp)</text>
<line x1="336.5" y1="1266.1" x2="1138.8" y2="1266.1" stroke="#00008B" stroke-width="3.2"/>
<path d="M331.2 1260.8L336.0 1266.1L331.2 1271.4" fill="none" stroke="#00008B" stroke-width="2.9" stroke-linecap="butt" stroke-linejoin="miter"/>
<path d="M349.1 1260.8L353.9 1266.1L349.1 1271.4" fill="none" stroke="#00008B" stroke-width="2.9" stroke-linecap="butt" stroke-linejoin="miter"/>
<path d="M367.0 1260.8L371.8 1266.1L367.0 1271.4" fill="none" stroke="#00008B" stroke-width="2.9" stroke-linecap="butt" stroke-linejoin="miter"/>
<path d="M384.9 1260.8L389.7 1266.1L384.9 1271.4" fill="none" stroke="#00008B" stroke-width="2.9" stroke-linecap="butt" stroke-linejoin="miter"/>
<path d="M402.8 1260.8L407.6 1266.1L402.8 1271.4" fill="none" stroke="#00008B" stroke-width="2.9" stroke-linecap="butt" stroke-linejoin="miter"/>
<path d="M420.7 1260.8L425.5 1266.1L420.7 1271.4" fill="none" stroke="#00008B" stroke-width="2.9" stroke-linecap="butt" stroke-linejoin="miter"/>
<path d="M438.6 1260.8L443.4 1266.1L438.6 1271.4" fill="none" stroke="#00008B" stroke-width="2.9" stroke-linecap="butt" stroke-linejoin="miter"/>
<path d="M456.5 1260.8L461.3 1266.1L456.5 1271.4" fill="none" stroke="#00008B" stroke-width="2.9" stroke-linecap="butt" stroke-linejoin="miter"/>
<path d="M474.4 1260.8L479.2 1266.1L474.4 1271.4" fill="none" stroke="#00008B" stroke-width="2.9" stroke-linecap="butt" stroke-linejoin="miter"/>
<path d="M492.3 1260.8L497.1 1266.1L492.3 1271.4" fill="none" stroke="#00008B" stroke-width="2.9" stroke-linecap="butt" stroke-linejoin="miter"/>
<path d="M510.2 1260.8L515.0 1266.1L510.2 1271.4" fill="none" stroke="#00008B" stroke-width="2.9" stroke-linecap="butt" stroke-linejoin="miter"/>
<path d="M528.1 1260.8L532.9 1266.1L528.1 1271.4" fill="none" stroke="#00008B" stroke-width="2.9" stroke-linecap="butt" stroke-linejoin="miter"/>
<path d="M546.0 1260.8L550.8 1266.1L546.0 1271.4" fill="none" stroke="#00008B" stroke-width="2.9" stroke-linecap="butt" stroke-linejoin="miter"/>
<path d="M563.9 1260.8L568.7 1266.1L563.9 1271.4" fill="none" stroke="#00008B" stroke-width="2.9" stroke-linecap="butt" stroke-linejoin="miter"/>
<path d="M581.8 1260.8L586.6 1266.1L581.8 1271.4" fill="none" stroke="#00008B" stroke-width="2.9" stroke-linecap="butt" stroke-linejoin="miter"/>
<path d="M599.7 1260.8L604.5 1266.1L599.7 1271.4" fill="none" stroke="#00008B" stroke-width="2.9" stroke-linecap="butt" stroke-linejoin="miter"/>
<path d="M617.6 1260.8L622.4 1266.1L617.6 1271.4" fill="none" stroke="#00008B" stroke-width="2.9" stroke-linecap="butt" stroke-linejoin="miter"/>
<path d="M635.5 1260.8L640.3 1266.1L635.5 1271.4" fill="none" stroke="#00008B" stroke-width="2.9" stroke-linecap="butt" stroke-linejoin="miter"/>
<path d="M653.4 1260.8L658.2 1266.1L653.4 1271.4" fill="none" stroke="#00008B" stroke-width="2.9" stroke-linecap="butt" stroke-linejoin="miter"/>
<path d="M671.3 1260.8L676.1 1266.1L671.3 1271.4" fill="none" stroke="#00008B" stroke-width="2.9" stroke-linecap="butt" stroke-linejoin="miter"/>
<path d="M689.2 1260.8L694.0 1266.1L689.2 1271.4" fill="none" stroke="#00008B" stroke-width="2.9" stroke-linecap="butt" stroke-linejoin="miter"/>
<path d="M707.1 1260.8L711.9 1266.1L707.1 1271.4" fill="none" stroke="#00008B" stroke-width="2.9" stroke-linecap="butt" stroke-linejoin="miter"/>
<path d="M725.0 1260.8L729.8 1266.1L725.0 1271.4" fill="none" stroke="#00008B" stroke-width="2.9" stroke-linecap="butt" stroke-linejoin="miter"/>
<path d="M742.9 1260.8L747.7 1266.1L742.9 1271.4" fill="none" stroke="#00008B" stroke-width="2.9" stroke-linecap="butt" stroke-linejoin="miter"/>
<path d="M760.8 1260.8L765.6 1266.1L760.8 1271.4" fill="none" stroke="#00008B" stroke-width="2.9" stroke-linecap="butt" stroke-linejoin="miter"/>
<path d="M778.7 1260.8L783.5 1266.1L778.7 1271.4" fill="none" stroke="#00008B" stroke-width="2.9" stroke-linecap="butt" stroke-linejoin="miter"/>
<path d="M796.6 1260.8L801.4 1266.1L796.6 1271.4" fill="none" stroke="#00008B" stroke-width="2.9" stroke-linecap="butt" stroke-linejoin="miter"/>
<path d="M814.5 1260.8L819.3 1266.1L814.5 1271.4" fill="none" stroke="#00008B" stroke-width="2.9" stroke-linecap="butt" stroke-linejoin="miter"/>
<path d="M832.4 1260.8L837.2 1266.1L832.4 1271.4" fill="none" stroke="#00008B" stroke-width="2.9" stroke-linecap="butt" stroke-linejoin="miter"/>
<path d="M850.3 1260.8L855.1 1266.1L850.3 1271.4" fill="none" stroke="#00008B" stroke-width="2.9" stroke-linecap="butt" stroke-linejoin="miter"/>
<path d="M868.2 1260.8L873.0 1266.1L868.2 1271.4" fill="none" stroke="#00008B" stroke-width="2.9" stroke-linecap="butt" stroke-linejoin="miter"/>
<path d="M886.1 1260.8L890.9 1266.1L886.1 1271.4" fill="none" stroke="#00008B" stroke-width="2.9" stroke-linecap="butt" stroke-linejoin="miter"/>
<path d="M904.0 1260.8L908.8 1266.1L904.0 1271.4" fill="none" stroke="#00008B" stroke-width="2.9" stroke-linecap="butt" stroke-linejoin="miter"/>
<path d="M921.9 1260.8L926.7 1266.1L921.9 1271.4" fill="none" stroke="#00008B" stroke-width="2.9" stroke-linecap="butt" stroke-linejoin="miter"/>
<path d="M939.8 1260.8L944.6 1266.1L939.8 1271.4" fill="none" stroke="#00008B" stroke-width="2.9" stroke-linecap="butt" stroke-linejoin="miter"/>
<path d="M957.7 1260.8L962.5 1266.1L957.7 1271.4" fill="none" stroke="#00008B" stroke-width="2.9" stroke-linecap="butt" stroke-linejoin="miter"/>
<path d="M975.6 1260.8L980.4 1266.1L975.6 1271.4" fill="none" stroke="#00008B" stroke-width="2.9" stroke-linecap="butt" stroke-linejoin="miter"/>
<path d="M993.5 1260.8L998.3 1266.1L993.5 1271.4" fill="none" stroke="#00008B" stroke-width="2.9" stroke-linecap="butt" stroke-linejoin="miter"/>
<path d="M1011.4 1260.8L1016.2 1266.1L1011.4 1271.4" fill="none" stroke="#00008B" stroke-width="2.9" stroke-linecap="butt" stroke-linejoin="miter"/>
<path d="M1029.3 1260.8L1034.1 1266.1L1029.3 1271.4" fill="none" stroke="#00008B" stroke-width="2.9" stroke-linecap="butt" stroke-linejoin="miter"/>
<path d="M1047.2 1260.8L1052.0 1266.1L1047.2 1271.4" fill="none" stroke="#00008B" stroke-width="2.9" stroke-linecap="butt" stroke-linejoin="miter"/>
<path d="M1065.1 1260.8L1069.9 1266.1L1065.1 1271.4" fill="none" stroke="#00008B" stroke-width="2.9" stroke-linecap="butt" stroke-linejoin="miter"/>
<path d="M1083.0 1260.8L1087.8 1266.1L1083.0 1271.4" fill="none" stroke="#00008B" stroke-width="2.9" stroke-linecap="butt" stroke-linejoin="miter"/>
<path d="M1100.9 1260.8L1105.7 1266.1L1100.9 1271.4" fill="none" stroke="#00008B" stroke-width="2.9" stroke-linecap="butt" stroke-linejoin="miter"/>
<path d="M1118.8 1260.8L1123.6 1266.1L1118.8 1271.4" fill="none" stroke="#00008B" stroke-width="2.9" stroke-linecap="butt" stroke-linejoin="miter"/>
<rect x="337.3" y="1257.1" width="5.5" height="17.9" fill="#00008B"/>
<rect x="343.8" y="1257.1" width="13.1" height="17.9" fill="#00008B"/>
<rect x="371" y="1257.1" width="15.0" height="17.9" fill="#00008B"/>
<rect x="494" y="1257.1" width="7.0" height="17.9" fill="#00008B"/>
<rect x="542.2" y="1257.1" width="37.8" height="17.9" fill="#00008B"/>
<rect x="596.8" y="1257.1" width="5.0" height="17.9" fill="#00008B"/>
<rect x="644.9" y="1257.1" width="2.6" height="17.9" fill="#00008B"/>
<rect x="670" y="1257.1" width="6.4" height="17.9" fill="#00008B"/>
<rect x="711.8" y="1257.1" width="6.0" height="17.9" fill="#00008B"/>
<rect x="845.7" y="1257.1" width="5.3" height="17.9" fill="#00008B"/>
<rect x="889.6" y="1257.1" width="7.3" height="17.9" fill="#00008B"/>
<rect x="1022.2" y="1257.1" width="8.8" height="17.9" fill="#00008B"/>
<rect x="1127.4" y="1257.1" width="10.7" height="17.9" fill="#00008B"/>
<text x="703.8" y="1223.9" font-size="18.4" fill="#000" text-anchor="start" textLength="66" lengthAdjust="spacingAndGlyphs">Slc7a9</text>
<text x="1229" y="460" font-size="32" fill="#000" text-anchor="start" textLength="41.5" lengthAdjust="spacingAndGlyphs">bw</text>
<rect x="1230" y="480" width="44" height="44" fill="#BEBEBE"/>
<text x="1291.5" y="511.2" font-size="25.9" fill="#000" text-anchor="start" textLength="53" lengthAdjust="spacingAndGlyphs">WT1</text>
<rect x="1230" y="528" width="44" height="44" fill="#BEBEBE"/>
<text x="1291.5" y="559.2" font-size="25.9" fill="#000" text-anchor="start" textLength="53" lengthAdjust="spacingAndGlyphs">WT2</text>
<rect x="1230" y="576" width="44" height="44" fill="#B22222"/>
<text x="1291.5" y="607.2" font-size="25.9" fill="#000" text-anchor="start" textLength="48" lengthAdjust="spacingAndGlyphs">KO1</text>
<rect x="1230" y="624" width="44" height="44" fill="#B22222"/>
<text x="1291.5" y="655.2" font-size="25.9" fill="#000" text-anchor="start" textLength="48" lengthAdjust="spacingAndGlyphs">KO2</text>
<rect x="1230" y="672" width="44" height="44" fill="#000000"/>
<text x="1291.5" y="703.2" font-size="25.9" fill="#000" text-anchor="start" textLength="64" lengthAdjust="spacingAndGlyphs">Input</text>
</svg></body></html>
